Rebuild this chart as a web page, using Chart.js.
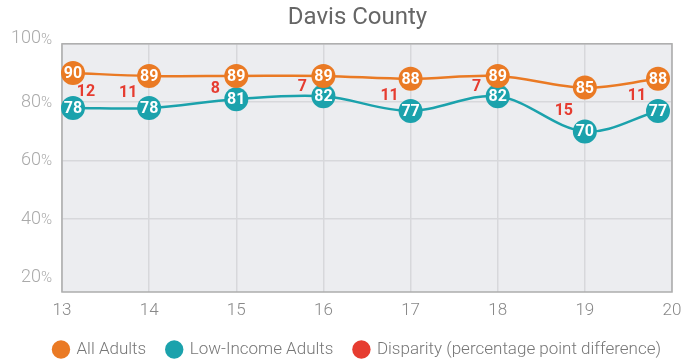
<!DOCTYPE html>
<html>
<head>
<meta charset="utf-8">
<title>Davis County</title>
<script src="https://cdn.jsdelivr.net/npm/chart.js@4.4.1/dist/chart.umd.min.js"></script>
<style>
  html, body { margin: 0; padding: 0; background: #fff; }
</style>
</head>
<body>
<canvas id="chart" width="684" height="363"></canvas>
<script>
// survey years (x axis) and percentages per group
const years = [13, 14, 15, 16, 17, 18, 19, 20];
const allAdults = [90, 89, 89, 89, 88, 89, 85, 88];
const lowIncome = [78, 78, 81, 82, 77, 82, 70, 77];
const disparity = [12, 11, 8, 7, 11, 7, 15, 11];
const yTicks = [20, 40, 60, 80, 100];

const ORANGE = '#ea7a24';
const TEAL = '#1ba2ac';
const RED = '#e63c30';
const GRID = '#d7d8db';

// grey plot background + frame around the chart area
const plotFrame = {
    id: 'plotFrame',
    beforeDraw(chart) {
        const { ctx, chartArea: a } = chart;
        ctx.save();
        ctx.fillStyle = '#ecedf0';
        ctx.fillRect(a.left, a.top, a.right - a.left, a.bottom - a.top);
        ctx.restore();
    },
    beforeDatasetsDraw(chart) {
        const { ctx, chartArea: a } = chart;
        ctx.save();
        ctx.strokeStyle = '#adadad';
        ctx.lineWidth = 1.5;
        ctx.strokeRect(a.left, a.top, a.right - a.left, a.bottom - a.top);
        ctx.restore();
    },
    // y labels: big number, small percent sign
    afterDraw(chart) {
        const { ctx, chartArea: a } = chart;
        const y = chart.scales.y;
        ctx.save();
        ctx.fillStyle = '#aaaaaa';
        ctx.textBaseline = 'middle';
        ctx.textAlign = 'right';
        yTicks.forEach(v => {
            let py = y.getPixelForValue(v);
            if (v === y.max) py -= 5;
            const right = a.left - 10;
            ctx.font = '300 15px Roboto';
            ctx.fillText('%', right, py + 1);
            const pw = ctx.measureText('%').width;
            ctx.font = '300 18px Roboto';
            ctx.fillText(String(v), right - pw, py);
        });
        ctx.restore();
    }
};

// keep the end markers inside the frame
const keepInside = {
    id: 'keepInside',
    afterDatasetsUpdate(chart) {
        const { left, right } = chart.chartArea;
        [0, 1].forEach(di => {
            const meta = chart.getDatasetMeta(di);
            meta.data.forEach(pt => {
                pt.x = Math.min(Math.max(pt.x, left + 11), right - 14);
            });
            meta.dataset._pointsUpdated = false;
        });
    }
};

// values inside the markers, disparity between the two lines
const valueLabels = {
    id: 'valueLabels',
    afterDatasetsDraw(chart) {
        const ctx = chart.ctx;
        const top = chart.getDatasetMeta(0).data;
        const bot = chart.getDatasetMeta(1).data;
        ctx.save();
        ctx.font = '700 16px Roboto';
        ctx.textAlign = 'center';
        ctx.textBaseline = 'middle';
        ctx.fillStyle = '#fff';
        [0, 1].forEach(di => {
            chart.getDatasetMeta(di).data.forEach((pt, i) => {
                ctx.fillText(chart.data.datasets[di].data[i].y, pt.x, pt.y + 1);
            });
        });
        ctx.fillStyle = RED;
        chart.data.datasets[2].data.forEach((d, i) => {
            const x = top[i].x + (i === 0 ? 13 : -21);
            const y = (top[i].y + bot[i].y) / 2 + 1;
            ctx.fillText(d.y, x, y);
        });
        ctx.restore();
    }
};

const toPoints = vals => years.map((x, i) => ({ x: x, y: vals[i] }));

new Chart(document.getElementById('chart'), {
    type: 'line',
    data: {
        datasets: [
            {
                label: 'All Adults',
                data: toPoints(allAdults),
                borderColor: ORANGE,
                backgroundColor: ORANGE,
                borderWidth: 2.5,
                tension: 0.35,
                pointRadius: 12,
                pointBorderWidth: 0,
                pointStyle: 'circle',
                clip: false,
            },
            {
                label: 'Low-Income Adults',
                data: toPoints(lowIncome),
                borderColor: TEAL,
                backgroundColor: TEAL,
                borderWidth: 2.5,
                tension: 0.35,
                pointRadius: 12,
                pointBorderWidth: 0,
                pointStyle: 'circle',
                clip: false,
            },
            {
                label: 'Disparity (percentage point difference)',
                data: toPoints(disparity),
                borderColor: RED,
                backgroundColor: RED,
                showLine: false,
                pointRadius: 0,
                pointBorderWidth: 0,
                pointStyle: 'circle',
            },
        ],
    },
    options: {
        responsive: false,
        devicePixelRatio: 1,
        animation: false,
        events: [],
        layout: { padding: { left: 31, right: 0, top: 0, bottom: -5 } },
        plugins: {
            title: {
                display: true,
                text: 'Davis County',
                color: '#666',
                font: { family: 'Roboto', size: 24, weight: '400' },
                padding: { top: 4, bottom: 11 },
            },
            legend: {
                position: 'bottom',
                labels: {
                    usePointStyle: true,
                    pointStyle: 'circle',
                    boxWidth: 14,
                    boxHeight: 13,
                    padding: 21,
                    color: '#777',
                    font: { family: 'Roboto', size: 17, weight: '300' },
                },
            },
            tooltip: { enabled: false },
        },
        scales: {
            x: {
                type: 'linear',
                min: 13,
                max: 20,
                ticks: {
                    stepSize: 1,
                    padding: 9,
                    color: '#888',
                    font: { family: 'Roboto', size: 17, weight: '300' },
                },
                // tighter box so the plot reaches lower and further right
                afterFit: s => { s.height = 28; s.paddingRight = 2; },
                grid: { color: GRID, lineWidth: 1.5, drawTicks: false },
                border: { display: false },
            },
            y: {
                min: 15,
                max: 100,
                afterBuildTicks: s => { s.ticks = yTicks.map(v => ({ value: v })); },
                afterFit: s => { s.width = 31; },
                ticks: { display: false },
                grid: {
                    color: c => (c.tick && c.tick.value === 20 ? 'rgba(0,0,0,0)' : GRID),
                    lineWidth: 1.5,
                    drawTicks: false,
                },
                border: { display: false },
            },
        },
    },
    plugins: [plotFrame, keepInside, valueLabels],
});
</script>
</body>
</html>
